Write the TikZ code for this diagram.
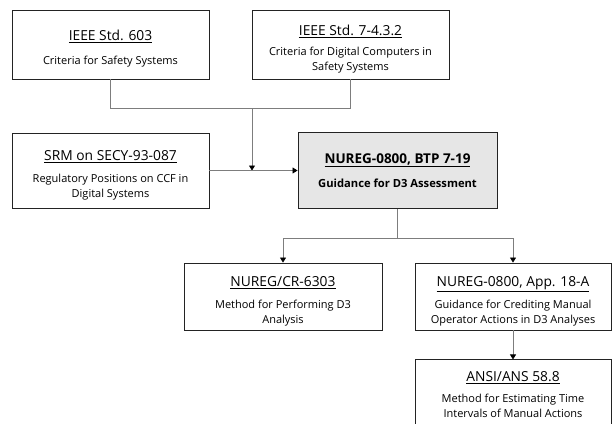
\documentclass[tikz,border=0pt]{standalone}
\usepackage{fontspec}
\setmainfont{Open Sans}
\usepackage{xcolor}
\usepackage{tikz}
\usetikzlibrary{arrows.meta, positioning}
\definecolor{framegray}{RGB}{35,35,35}
\definecolor{linkgray}{RGB}{125,125,125}
\definecolor{focusfill}{RGB}{230,230,230}
\newcommand{\boxhead}[1]{{\fontsize{13.8}{15}\selectfont\rule{0pt}{19pt}\underline{#1}}}

\tikzset{
  docbox/.style={draw=framegray, line width=0.9pt, inner sep=0pt, align=center,
    minimum width=197pt, minimum height=69pt, font=\fontsize{11}{14.5}\selectfont},
  link/.style={draw=linkgray, line width=0.7pt},
  arr/.style={link, -{Triangle[length=5pt, width=6pt, color=black]}}
}

\begin{document}
\begin{tikzpicture}[x=1pt, y=-1pt]
  \useasboundingbox (0,0) rectangle (612,423);
  % sources
  \node[docbox] (b603) at (110.5,44.5) {\boxhead{IEEE Std. 603}\\[9pt] Criteria for Safety Systems};
  \node[docbox] (b7432) at (350.5,44.5) {\boxhead{IEEE Std. 7-4.3.2}\\[6pt] Criteria for Digital Computers in\\ Safety Systems};
  \node[docbox, minimum height=75pt] (srm) at (110.5,170.5) {\boxhead{SRM on SECY-93-087}\\[8pt] Regulatory Positions on CCF in\\ Digital Systems};
  \node[docbox, minimum height=76pt, minimum width=199pt, fill=focusfill, font=\fontsize{11.2}{14.5}\selectfont\bfseries]
    (btp) at (397.5,170.5) {{\fontsize{13.5}{15}\selectfont\underline{NUREG-0800, BTP 7-19}}\\[10pt] Guidance for D3 Assessment};
  % derived guidance
  \node[docbox, minimum height=67pt, minimum width=198pt] (cr6303) at (283,296.5) {\boxhead{NUREG/CR-6303}\\[8pt] Method for Performing D3\\ Analysis};
  \node[docbox, minimum height=67pt, minimum width=196pt] (app18a) at (513,296.5) {\boxhead{NUREG-0800, App. 18-A}\\[8pt] Guidance for Crediting Manual\\ Operator Actions in D3 Analyses};
  \node[docbox, minimum height=69pt, minimum width=196pt, below=29pt of app18a] (ansi)
    {{\fontsize{13.8}{15}\selectfont\underline{ANSI/ANS 58.8}}\\[7pt] Method for Estimating Time\\ Intervals of Manual Actions};
  % connectors
  \draw[link] (b603.south) -- ++(0,29) -| (b7432.south);
  \coordinate (merge) at (252,108);
  \draw[arr] (merge) -- (merge |- btp.west);
  \draw[arr] (srm.east) -- (btp.west);
  \draw[link] (btp.south) -- ++(0,29) coordinate (split);
  \draw[arr] (split) -| (cr6303.north);
  \draw[arr] (split) -| (app18a.north);
  \draw[arr] (app18a.south) -- (ansi.north);
\end{tikzpicture}
\end{document}
